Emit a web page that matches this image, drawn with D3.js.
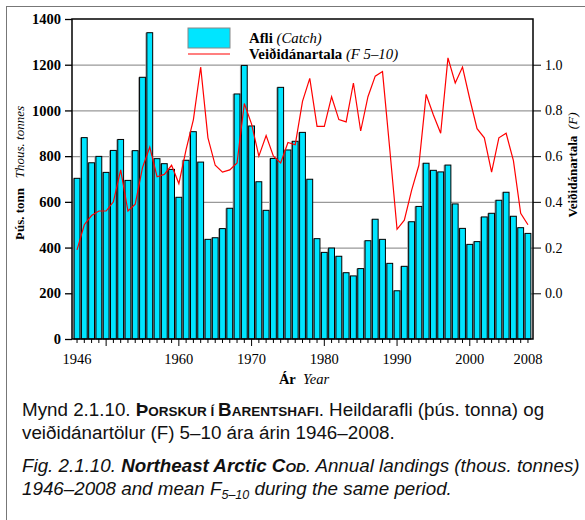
<!DOCTYPE html>
<html>
<head>
<meta charset="utf-8">
<title>Þorskur í Barentshafi</title>
<script src="https://cdn.jsdelivr.net/npm/d3@7/dist/d3.min.js"></script>
<style>
  body { margin: 0; background: #fff; }
  .serif { font-family: "Liberation Serif", "Times New Roman", serif; }
  .sans { font-family: "Liberation Sans", Arial, sans-serif; }
</style>
</head>
<body>
<script>
// catch (thous. tonnes), 1946-2008
const years = d3.range(1946, 2009);
const catchVals = [703, 881, 771, 799, 729, 825, 873, 694, 824, 1145,
  1340, 789, 767, 742, 620, 782, 907, 774, 436, 443,
  483, 572, 1072, 1197, 932, 688, 563, 790, 1101, 827,
  865, 904, 699, 439, 379, 398, 362, 290, 276, 308,
  430, 524, 436, 331, 211, 318, 513, 580, 769, 738,
  731, 761, 591, 484, 414, 426, 534, 550, 607, 642,
  537, 487, 462];
// mean F 5-10
const fVals = [0.19, 0.30, 0.34, 0.36, 0.36, 0.40, 0.54, 0.36, 0.39, 0.55,
  0.64, 0.51, 0.52, 0.56, 0.48, 0.63, 0.76, 0.99, 0.68, 0.56,
  0.53, 0.54, 0.57, 0.83, 0.74, 0.60, 0.69, 0.60, 0.57, 0.66,
  0.65, 0.84, 0.94, 0.73, 0.73, 0.86, 0.76, 0.75, 0.92, 0.71,
  0.86, 0.95, 0.97, 0.63, 0.28, 0.32, 0.45, 0.56, 0.87, 0.78,
  0.70, 1.03, 0.92, 0.99, 0.85, 0.72, 0.68, 0.53, 0.68, 0.70,
  0.58, 0.35, 0.30];
const leftTicks = [0, 200, 400, 600, 800, 1000, 1200, 1400];
const rightTicks = [0.0, 0.2, 0.4, 0.6, 0.8, 1.0];
const yearLabels = [1946, 1960, 1970, 1980, 1990, 2000, 2008];

const width = 585, height = 520;
const svg = d3.select("body").append("svg")
  .attr("width", width).attr("height", height);

// page frame
svg.append("line").attr("x1", 6).attr("x2", width).attr("y1", 6.5).attr("y2", 6.5)
  .attr("stroke", "#777").attr("stroke-width", 1);
svg.append("line").attr("x1", 6.5).attr("x2", 6.5).attr("y1", 6).attr("y2", height)
  .attr("stroke", "#777").attr("stroke-width", 1);

const pLeft = 72, pRight = 533, pTop = 19, pBottom = 339;

const x = d3.scaleBand().domain(years).range([73.4, 531.6]).paddingInner(0.2).paddingOuter(0.1);
const xc = d3.scaleLinear().domain([1946, 2008]).range([x(1946) + x.bandwidth() / 2, x(2008) + x.bandwidth() / 2]);
const y = d3.scaleLinear().domain([0, 1400]).range([pBottom, pTop]);
const yF = d3.scaleLinear().domain([-0.2, 1.2]).range([pBottom, pTop]);

// grid
svg.append("g").selectAll("line")
  .data(leftTicks.filter(d => d > 0 && d < 1400))
  .join("line")
  .attr("x1", pLeft).attr("x2", pRight)
  .attr("y1", d => y(d) + 0.5).attr("y2", d => y(d) + 0.5)
  .attr("stroke", "#999").attr("stroke-width", 1.2);

const data = years.map((yr, i) => ({ year: yr, c: catchVals[i], f: fVals[i] }));

// bars: gray shadow + cyan bar
const bars = svg.append("g");
bars.selectAll("rect.shadow").data(data).join("rect")
  .attr("class", "shadow")
  .attr("x", d => x(d.year) - 1.5)
  .attr("y", d => y(d.c))
  .attr("width", x.bandwidth())
  .attr("height", d => pBottom - y(d.c))
  .attr("fill", "#a9a9a9");
bars.selectAll("rect.bar").data(data).join("rect")
  .attr("class", "bar")
  .attr("x", d => x(d.year))
  .attr("y", d => y(d.c))
  .attr("width", x.bandwidth())
  .attr("height", d => pBottom - y(d.c))
  .attr("fill", "#00e5ff")
  .attr("stroke", "#000").attr("stroke-width", 1);

// F line
svg.append("path").datum(data)
  .attr("fill", "none").attr("stroke", "#ff0000").attr("stroke-width", 1.2)
  .attr("d", d3.line().x(d => xc(d.year)).y(d => yF(d.f)));

// frame
svg.append("path")
  .attr("d", `M${pLeft},${pBottom}V${pTop}H${pRight}V${pBottom}H${pLeft}`)
  .attr("fill", "none").attr("stroke", "#000").attr("stroke-width", 1.5);

// left axis
const gL = svg.append("g").attr("transform", `translate(${pLeft},0)`)
  .call(d3.axisLeft(y).tickValues(leftTicks).tickSize(7).tickPadding(4).tickFormat(d3.format("d")));
gL.select(".domain").remove();
gL.selectAll("line").attr("stroke-width", 1.3);
gL.selectAll("text").attr("class", "serif").attr("font-size", 14.5).attr("font-weight", "bold").attr("fill", "#000");

// right axis
const gR = svg.append("g").attr("transform", `translate(${pRight},0)`)
  .call(d3.axisRight(yF).tickValues(rightTicks).tickSize(8).tickPadding(4).tickFormat(d3.format(".1f")));
gR.select(".domain").remove();
gR.selectAll("line").attr("stroke-width", 1);
gR.selectAll("text").attr("class", "serif").attr("font-size", 14).attr("fill", "#000");

// bottom axis
const gB = svg.append("g").attr("transform", `translate(0,${pBottom})`);
gB.selectAll("line").data(years).join("line")
  .attr("x1", d => xc(d)).attr("x2", d => xc(d))
  .attr("y1", 0).attr("y2", d => d % 10 === 0 ? 7 : 4)
  .attr("stroke", "#000").attr("stroke-width", 1);
gB.selectAll("text").data(yearLabels).join("text")
  .attr("class", "serif").attr("font-size", 14.5)
  .attr("x", d => xc(d)).attr("y", 25)
  .attr("text-anchor", "middle").text(d => d);

// axis titles
const tX = svg.append("text").attr("class", "serif").attr("font-size", 14.5)
  .attr("x", 304).attr("y", 384).attr("text-anchor", "middle");
tX.append("tspan").attr("font-weight", "bold").text("Ár");
tX.append("tspan").attr("font-style", "italic").text("\u00a0\u00a0Year");

const tL = svg.append("text").attr("class", "serif").attr("font-size", 13)
  .attr("transform", "translate(24,173) rotate(-90)").attr("text-anchor", "middle");
tL.append("tspan").attr("font-weight", "bold").text("Þús. tonn");
tL.append("tspan").attr("font-style", "italic").text("\u00a0\u00a0\u00a0Thous. tonnes");

const tR = svg.append("text").attr("class", "serif").attr("font-size", 13)
  .attr("transform", "translate(577,165) rotate(-90)").attr("text-anchor", "middle");
tR.append("tspan").attr("font-weight", "bold").text("Veiðidánartala");
tR.append("tspan").attr("font-style", "italic").text("\u00a0\u00a0(F)");

// legend
const lg = svg.append("g");
lg.append("rect").attr("x", 188).attr("y", 28).attr("width", 42).attr("height", 20)
  .attr("fill", "#00e5ff").attr("stroke", "#888").attr("stroke-width", 1);
lg.append("line").attr("x1", 188).attr("x2", 230).attr("y1", 54).attr("y2", 54)
  .attr("stroke", "#ff0000").attr("stroke-width", 1.2);
const l1 = lg.append("text").attr("class", "serif").attr("font-size", 14.8).attr("x", 249).attr("y", 42.5);
l1.append("tspan").attr("font-weight", "bold").text("Afli");
l1.append("tspan").attr("font-style", "italic").text("\u00a0(Catch)");
const l2 = lg.append("text").attr("class", "serif").attr("font-size", 14.8).attr("x", 249).attr("y", 58.5);
l2.append("tspan").attr("font-weight", "bold").text("Veiðidánartala");
l2.append("tspan").attr("font-style", "italic").text("\u00a0(F 5\u201310)");

// caption
const cap = svg.append("g").attr("class", "sans").attr("font-size", 18.8).attr("fill", "#111");
const c1 = cap.append("text").attr("x", 22).attr("y", 416);
c1.append("tspan").text("Mynd 2.1.10. ");
c1.append("tspan").attr("font-weight", "bold").text("Þ");
c1.append("tspan").attr("font-weight", "bold").attr("font-size", 13.5).text("ORSKUR Í ");
c1.append("tspan").attr("font-weight", "bold").text("B");
c1.append("tspan").attr("font-weight", "bold").attr("font-size", 13.5).text("ARENTSHAFI");
c1.append("tspan").text(". Heildarafli (þús. tonna) og");
cap.append("text").attr("x", 22).attr("y", 439).text("veiðidánartölur (F) 5\u201310 ára árin 1946\u20132008.");
const c3 = cap.append("text").attr("x", 22).attr("y", 472).attr("font-style", "italic");
c3.append("tspan").text("Fig. 2.1.10. ");
c3.append("tspan").attr("font-weight", "bold").text("Northeast Arctic C");
c3.append("tspan").attr("font-weight", "bold").attr("font-size", 13.5).text("OD");
c3.append("tspan").text(". Annual landings (thous. tonnes)");
const c4 = cap.append("text").attr("x", 22).attr("y", 495).attr("font-style", "italic");
c4.append("tspan").text("1946\u20132008 and mean F");
c4.append("tspan").attr("font-size", 12.5).attr("dy", 4).text("5\u201310");
c4.append("tspan").attr("dy", -4).text(" during the same period.");
</script>
</body>
</html>
